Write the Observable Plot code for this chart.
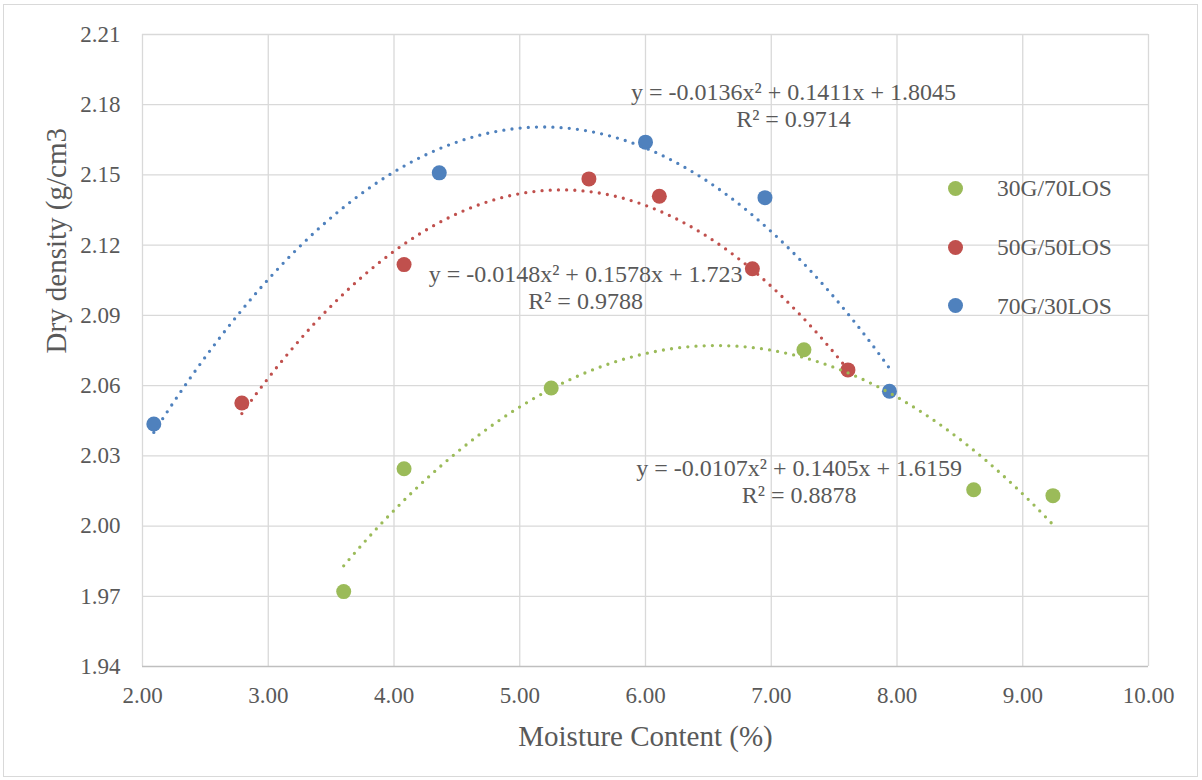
<!DOCTYPE html>
<html>
<head>
<meta charset="utf-8">
<script src="https://cdn.jsdelivr.net/npm/d3@7"></script>
<script src="https://cdn.jsdelivr.net/npm/@observablehq/plot@0.6"></script>
<style>
  html, body { margin: 0; padding: 0; background: #fff; }
  #wrap { position: relative; width: 1202px; height: 780px; overflow: hidden; }
  #border { position: absolute; left: 3px; top: 4px; width: 1193px; height: 771px; border: 1.3px solid #d9d9d9; pointer-events: none; }
  #legend { position: absolute; left: 0; top: 0; font-family: "Liberation Serif", "Times New Roman", serif; font-size: 23.5px; color: #595959; }
  .item { position: absolute; white-space: nowrap; }
  .sw { position: absolute; width: 15px; height: 15px; border-radius: 50%; }
</style>
</head>
<body>
<div id="wrap"><div id="border"></div></div>
<script>
// ---- data ----
const seriesNames = ["30G/70LOS", "50G/50LOS", "70G/30LOS"];
const seriesColors = ["#9BBB59", "#C0504D", "#4F81BD"];

const x30 = [3.60, 4.08, 5.25, 7.26, 8.61, 9.24];
const y30 = [1.972, 2.0245, 2.059, 2.0753, 2.0155, 2.013];

const x50 = [2.79, 4.08, 5.55, 6.11, 6.85, 7.61];
const y50 = [2.0526, 2.1117, 2.1483, 2.1409, 2.1099, 2.0667];

const x70 = [2.09, 4.36, 6.00, 6.95, 7.94];
const y70 = [2.0436, 2.1509, 2.164, 2.1403, 2.0576];

// polynomial trendline coefficients (y = a x^2 + b x + c), as printed on the chart
const coefA = [-0.0107, -0.0148, -0.0136];
const coefB = [0.1405, 0.1578, 0.1411];
const coefC = [1.6159, 1.723, 1.8045];
const rSquared = ["0.8878", "0.9788", "0.9714"];
const eqTexts = [
  "y = -0.0107x² + 0.1405x + 1.6159",
  "y = -0.0148x² + 0.1578x + 1.723",
  "y = -0.0136x² + 0.1411x + 1.8045"
];
// equation label anchors (data units: centre x, baseline of last line)
const eqX = [7.222, 5.523, 7.177];
const eqY = [2.010, 2.0927, 2.1703];

const xTicks = [2, 3, 4, 5, 6, 7, 8, 9, 10];
const yTicks = [1.94, 1.97, 2.00, 2.03, 2.06, 2.09, 2.12, 2.15, 2.18, 2.21];

const xTitle = "Moisture Content (%)";
const yTitle = "Dry density (g/cm3";

// ---- build ----
const xsAll = [x30, x50, x70];
const ysAll = [y30, y50, y70];

const series = seriesNames.map((name, k) => ({
  name, color: seriesColors[k],
  pts: xsAll[k].map((x, i) => ({x, y: ysAll[k][i]})),
  a: coefA[k], b: coefB[k], c: coefC[k]
}));

function trendPoints(s) {
  const lo = d3.min(s.pts, d => d.x), hi = d3.max(s.pts, d => d.x);
  const n = 200;
  return d3.range(n + 1).map(j => {
    const x = lo + (hi - lo) * j / n;
    return {x, y: s.a * x * x + s.b * x + s.c};
  });
}

const labels = series.map((s, k) => ({
  x: eqX[k], y: eqY[k], text: eqTexts[k] + "\nR² = " + rSquared[k]
}));

const textColor = "#595959";
const font = "'Liberation Serif', 'Times New Roman', serif";

const chart = Plot.plot({
  width: 1202,
  height: 780,
  marginLeft: 142,
  marginRight: 54,
  marginTop: 34,
  marginBottom: 114,
  style: {fontFamily: font, fontSize: "23px", color: textColor, background: "transparent"},
  x: {domain: [2, 10], ticks: xTicks, tickFormat: d3.format(".2f"), tickSize: 0, tickPadding: 20, label: null},
  y: {domain: [1.94, 2.21], ticks: yTicks, tickFormat: d3.format(".2f"), tickSize: 0, tickPadding: 22, label: null},
  marks: [
    Plot.ruleX(xTicks, {stroke: "#d9d9d9", strokeWidth: 1.3}),
    Plot.ruleY(yTicks.slice(1), {stroke: "#d9d9d9", strokeWidth: 1.3}),
    Plot.ruleY([1.94], {stroke: "#bfbfbf", strokeWidth: 1.3}),
    ...series.map(s => Plot.dot(s.pts, {x: "x", y: "y", r: 7.5, fill: s.color, stroke: "none"})),
    ...series.map(s => Plot.line(trendPoints(s), {
      x: "x", y: "y", stroke: s.color, strokeWidth: 3.3,
      strokeDasharray: "0 8.2", strokeLinecap: "round", curve: "linear"
    })),
    Plot.text(labels, {
      x: "x", y: "y", text: "text", textAnchor: "middle", lineAnchor: "bottom",
      lineHeight: 27 / 24, fontSize: 24, fill: textColor
    }),
    Plot.text([xTitle], {frameAnchor: "bottom", lineAnchor: "bottom", dy: 79, fontSize: 29, fill: textColor}),
    Plot.text([yTitle], {frameAnchor: "left", lineAnchor: "bottom", rotate: -90, dx: -77, dy: 3, fontSize: 29, fill: textColor})
  ]
});

const wrap = document.getElementById("wrap");
wrap.insertBefore(chart, wrap.firstChild);
chart.style.position = "absolute";
chart.style.left = "0px";
chart.style.top = "0px";

// legend (inside plot area, right side)
const legend = document.createElement("div");
legend.id = "legend";
const rowY = [188.3, 247.3, 305.7];
seriesNames.forEach((name, k) => {
  const sw = document.createElement("div");
  sw.className = "sw";
  sw.style.background = seriesColors[k];
  sw.style.left = (955 - 7.5) + "px";
  sw.style.top = (rowY[k] - 7.5) + "px";
  legend.appendChild(sw);
  const t = document.createElement("div");
  t.className = "item";
  t.textContent = name;
  t.style.left = "997px";
  t.style.top = (rowY[k] - 14) + "px";
  t.style.lineHeight = "28px";
  legend.appendChild(t);
});
wrap.appendChild(legend);
</script>
</body>
</html>
